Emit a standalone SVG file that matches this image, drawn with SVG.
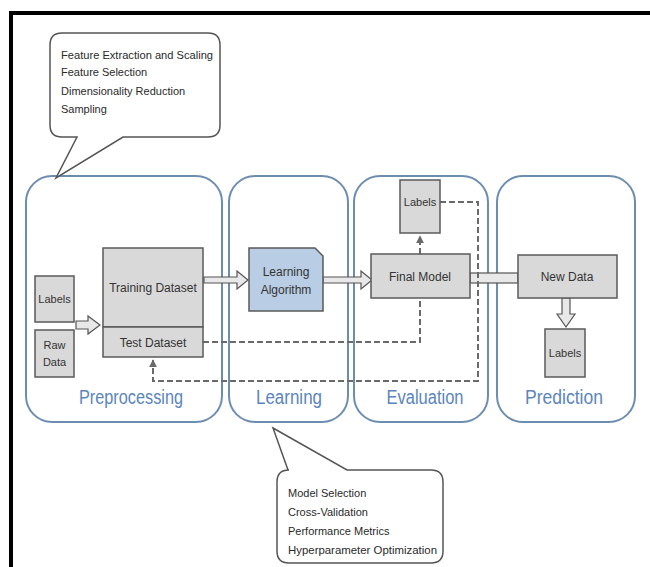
<svg xmlns="http://www.w3.org/2000/svg" width="650" height="567" viewBox="0 0 650 567">
<defs>
<style>
.panel{fill:none;stroke:#6d8db0;stroke-width:2}
.plabel{font-family:"Liberation Sans",Arial,sans-serif;font-size:20px;fill:#5b85bb;text-anchor:middle}
.node{fill:#d9d9d9;stroke:#5a5a5a;stroke-width:1.5}
.algo{fill:#b9cde5;stroke:#5a5a5a;stroke-width:1.5}
.t{font-family:"Liberation Sans",Arial,sans-serif;font-size:12px;fill:#333;text-anchor:middle}
.s{font-size:11px}
.call{fill:#fff;stroke:#555;stroke-width:1.5}
.ct{font-family:"Liberation Sans",Arial,sans-serif;font-size:11px;fill:#2a2a2a}
.dash{fill:none;stroke:#6a6a6a;stroke-width:2;stroke-dasharray:6 3}
.block{fill:#e8e8e8;stroke:#555;stroke-width:1.2}
</style>
<marker id="ah" viewBox="0 0 10 10" refX="9" refY="5" markerWidth="4" markerHeight="4" orient="auto">
<path d="M0,0 L10,5 L0,10 z" fill="#6a6a6a"/>
</marker>
</defs>
<rect x="0" y="0" width="650" height="567" fill="#fff"/>
<!-- frame -->
<rect x="9" y="11" width="641" height="4" fill="#000"/>
<rect x="9" y="11" width="4" height="556" fill="#000"/>

<!-- panels -->
<g id="panel-preprocessing">
<rect class="panel" x="26" y="176" width="196" height="246" rx="26"/>
<text class="plabel" x="131" y="404" textLength="104" lengthAdjust="spacingAndGlyphs">Preprocessing</text>
</g>
<g id="panel-learning">
<rect class="panel" x="229" y="176" width="119" height="246" rx="26"/>
<text class="plabel" x="289" y="404" textLength="66" lengthAdjust="spacingAndGlyphs">Learning</text>
</g>
<g id="panel-evaluation">
<rect class="panel" x="354" y="176" width="134" height="246" rx="26"/>
<text class="plabel" x="425" y="404" textLength="77" lengthAdjust="spacingAndGlyphs">Evaluation</text>
</g>
<g id="panel-prediction">
<rect class="panel" x="497" y="176" width="138" height="246" rx="26"/>
<text class="plabel" x="564" y="404" textLength="78" lengthAdjust="spacingAndGlyphs">Prediction</text>
</g>

<!-- callouts -->
<g id="callout-preprocessing">
<path class="call" d="M62,33 H208 Q220,33 220,45 V125 Q220,137 208,137 H123 L56,178 L77,137 H62 Q50,137 50,125 V45 Q50,33 62,33 Z"/>
<text class="ct" x="61" y="59" textLength="152" lengthAdjust="spacingAndGlyphs">Feature Extraction and Scaling</text>
<text class="ct" x="61" y="76">Feature Selection</text>
<text class="ct" x="61" y="95">Dimensionality Reduction</text>
<text class="ct" x="61" y="113">Sampling</text>
</g>
<g id="callout-learning">
<path class="call" d="M289,470 L288,470 L273,428 L347,470 H431 Q443,470 443,482 V551 Q443,563 431,563 H289 Q277,563 277,551 V482 Q277,470 289,470 Z"/>
<text class="ct" x="288" y="497">Model Selection</text>
<text class="ct" x="288" y="516">Cross-Validation</text>
<text class="ct" x="288" y="535">Performance Metrics</text>
<text class="ct" x="288" y="554" textLength="149" lengthAdjust="spacingAndGlyphs">Hyperparameter Optimization</text>
</g>

<!-- connectors -->
<g id="connectors">
<path class="block" d="M76,321 H88 V316 L100,325 L88,334 V329 H76 Z"/>
<path class="block" d="M204,277 H237 V271 L248,280 L237,289 V283 H204 Z"/>
<path class="block" d="M323,277 H361 V271 L372,280 L361,289 V283 H323 Z"/>
<rect class="block" x="470" y="273" width="48" height="10"/>
<path class="block" d="M562,298 V314 H557 L566,327 L575,314 H570 V298 Z"/>
<path class="dash" d="M420,254 V236" marker-end="url(#ah)"/>
<path class="dash" d="M203,342 H420 V298"/>
<path class="dash" d="M440,202 H478 V381 H153 V360" marker-end="url(#ah)"/>
</g>

<!-- nodes -->
<g id="node-labels-in">
<rect class="node" x="35" y="276" width="39" height="46"/>
<text class="t s" x="54.5" y="303">Labels</text>
</g>
<g id="node-raw-data">
<rect class="node" x="35" y="330" width="39" height="47"/>
<text class="t s" x="54.5" y="349">Raw</text>
<text class="t s" x="54.5" y="366">Data</text>
</g>
<g id="node-training">
<rect class="node" x="103" y="248" width="100" height="79"/>
<text class="t" x="153" y="292">Training Dataset</text>
</g>
<g id="node-test">
<rect class="node" x="103" y="327" width="100" height="30"/>
<text class="t" x="153" y="347">Test Dataset</text>
</g>
<g id="node-learning-algorithm">
<path class="algo" d="M249,248 H315 L323,256 V311 H249 Z"/>
<text class="t" x="286" y="276">Learning</text>
<text class="t" x="286" y="294">Algorithm</text>
</g>
<g id="node-final-model">
<rect class="node" x="371" y="254" width="99" height="44"/>
<text class="t" x="420" y="281">Final Model</text>
</g>
<g id="node-labels-eval">
<rect class="node" x="400" y="180" width="40" height="53"/>
<text class="t s" x="420" y="206">Labels</text>
</g>
<g id="node-new-data">
<rect class="node" x="518" y="255" width="99" height="43"/>
<text class="t" x="567" y="281">New Data</text>
</g>
<g id="node-labels-pred">
<rect class="node" x="545" y="329" width="40" height="48"/>
<text class="t s" x="565" y="357">Labels</text>
</g>
</svg>
